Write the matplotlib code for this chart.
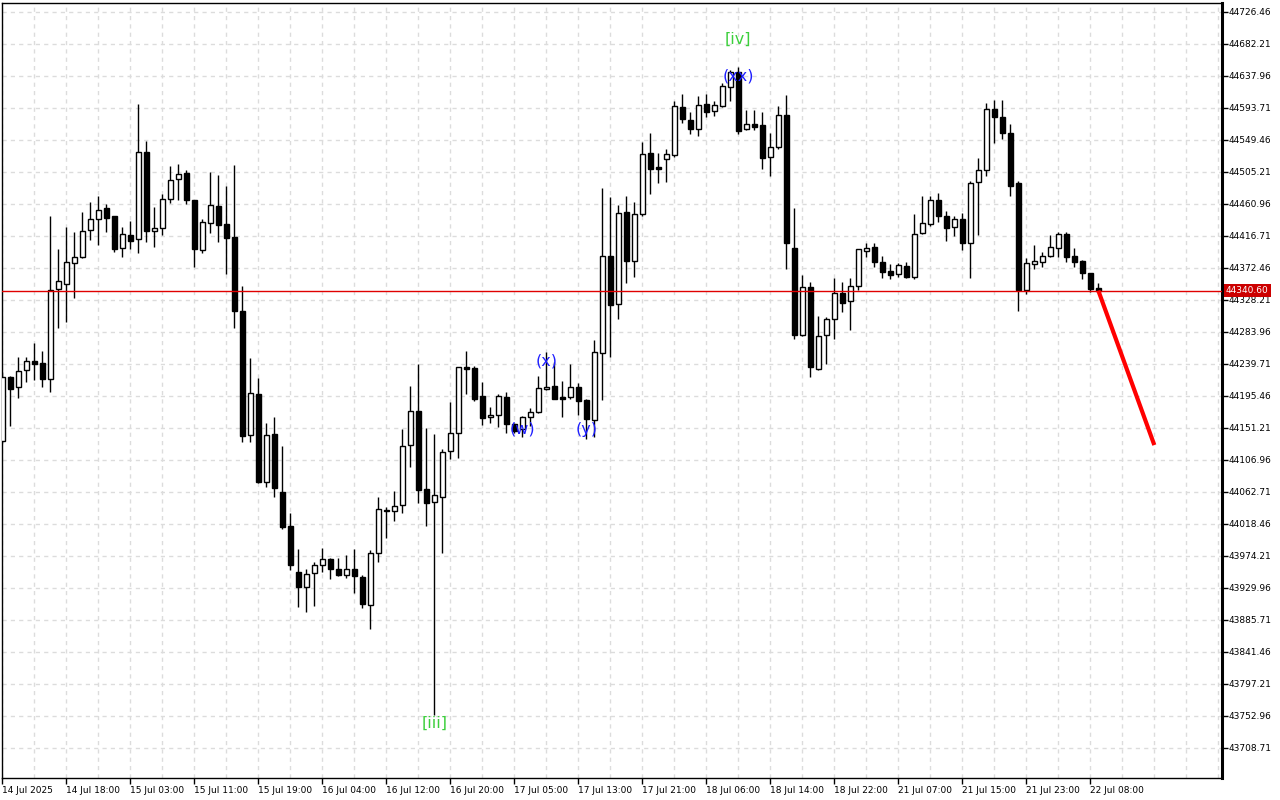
import matplotlib
matplotlib.use("Agg")
import matplotlib.pyplot as plt
import numpy as np

# hourly OHLC, 14 Jul 10:00 .. 22 Jul 09:00
opens = [44132.6, 44221.1, 44206.8, 44230.3, 44242.8, 44240.4, 44218.7, 44342.4, 44350.1, 44378.3,
         44387.4, 44423.9, 44439.2, 44454.4, 44443.4, 44399.1, 44417.0, 44411.5, 44531.8, 44422.6,
         44426.7, 44466.8, 44494.5, 44503.2, 44465.8, 44397.4, 44433.6, 44457.1, 44432.2, 44414.7,
         44312.3, 44140.5, 44197.2, 44075.5, 44141.9, 44061.6, 44014.6, 43951.0, 43930.3, 43949.6,
         43960.7, 43969.0, 43955.2, 43946.9, 43955.2, 43944.5, 43905.4, 43977.3, 44037.2, 44035.4,
         44043.7, 44126.6, 44173.7, 44065.8, 44047.8, 44055.6, 44118.1, 44143.0, 44234.5, 44233.3,
         44194.4, 44165.4, 44168.1, 44193.0, 44155.7, 44148.8, 44165.4, 44172.3, 44204.9, 44208.2,
         44193.0, 44193.0, 44206.8, 44188.9, 44162.3, 44253.9, 44388.0, 44322.4, 44448.8, 44381.9,
         44446.9, 44530.4, 44511.1, 44522.1, 44528.5, 44594.0, 44576.0, 44564.4, 44598.6, 44588.5,
         44595.4, 44621.7, 44642.4, 44563.6, 44570.5, 44569.1, 44525.7, 44539.5, 44583.1, 44399.1,
         44279.6, 44345.1, 44232.8, 44278.7, 44300.9, 44336.8, 44325.8, 44346.5, 44395.7, 44400.4,
         44379.7, 44367.2, 44363.1, 44374.2, 44359.8, 44419.8, 44432.2, 44465.4, 44443.3, 44428.1,
         44439.2, 44406.0, 44490.3, 44506.9, 44591.3, 44580.2, 44558.1, 44488.9, 44341.4, 44377.3,
         44379.7, 44388.0, 44399.1, 44418.8, 44388.4, 44381.5, 44364.9, 44343.7]
highs = [44228.0, 44222.5, 44248.7, 44248.7, 44268.1, 44257.0, 44443.7, 44398.1, 44428.5, 44421.6,
         44449.2, 44463.1, 44471.4, 44460.3, 44443.9, 44428.5, 44436.8, 44598.6, 44547.4, 44456.2,
         44473.7, 44512.4, 44515.6, 44507.3, 44466.5, 44439.6, 44505.0, 44500.4, 44485.2, 44513.8,
         44346.9, 44246.9, 44219.3, 44157.1, 44165.8, 44125.7, 44032.6, 43983.2, 43955.6, 43965.7,
         43985.0, 43971.2, 43971.2, 43974.9, 43983.2, 43947.3, 43981.9, 44054.7, 44040.9, 44063.4,
         44149.2, 44208.6, 44239.1, 44150.6, 44142.3, 44121.5, 44186.5, 44235.3, 44257.0, 44235.9,
         44214.2, 44179.6, 44197.6, 44200.3, 44157.1, 44167.2, 44178.2, 44222.5, 44255.7, 44242.0,
         44215.1, 44238.6, 44213.2, 44190.2, 44272.2, 44482.8, 44470.0, 44458.9, 44471.4, 44463.1,
         44545.6, 44558.1, 44530.4, 44535.9, 44602.3, 44612.4, 44587.9, 44609.7, 44612.4, 44602.3,
         44627.2, 44645.2, 44650.2, 44590.3, 44590.3, 44587.1, 44558.1, 44595.4, 44611.0, 44454.8,
         44361.7, 44352.4, 44305.4, 44303.6, 44357.6, 44352.0, 44357.6, 44398.8, 44406.0, 44406.0,
         44388.4, 44376.9, 44378.3, 44379.7, 44446.1, 44471.0, 44471.0, 44475.1, 44450.2, 44444.1,
         44447.4, 44491.7, 44523.5, 44599.6, 44604.1, 44603.7, 44570.5, 44491.7, 44385.2, 44403.6,
         44393.5, 44417.0, 44421.2, 44421.2, 44399.1, 44382.9, 44365.6, 44351.5]
lows = [44129.8, 44153.3, 44192.5, 44214.6, 44216.9, 44207.7, 44200.8, 44289.3, 44297.6, 44330.7,
        44386.0, 44410.5, 44403.6, 44422.0, 44394.4, 44387.4, 44398.1, 44393.0, 44408.2, 44401.3,
        44417.4, 44462.1, 44465.8, 44460.7, 44373.2, 44393.0, 44420.6, 44408.2, 44363.9, 44289.3,
        44131.6, 44131.6, 44075.2, 44068.6, 44055.6, 44010.5, 43954.6, 43903.5, 43896.5, 43904.8,
        43951.9, 43941.3, 43945.9, 43943.6, 43922.8, 43901.2, 43873.0, 43965.7, 43998.9, 44022.4,
        44033.4, 44097.1, 44046.4, 44015.5, 43753.7, 43978.1, 44107.7, 44109.5, 44198.3, 44188.3,
        44155.1, 44157.1, 44152.4, 44143.2, 44144.1, 44137.7, 44153.3, 44172.0, 44203.8, 44190.3,
        44165.4, 44191.1, 44169.0, 44135.8, 44138.5, 44189.3, 44249.2, 44300.9, 44350.6, 44359.8,
        44444.1, 44474.6, 44489.8, 44491.1, 44525.7, 44572.7, 44557.5, 44554.8, 44581.0, 44582.4,
        44594.4, 44603.2, 44557.1, 44562.6, 44563.0, 44509.1, 44499.4, 44536.8, 44371.1, 44274.0,
        44278.5, 44220.7, 44230.3, 44239.5, 44274.0, 44311.4, 44286.5, 44341.0, 44387.4, 44373.6,
        44358.4, 44357.0, 44359.8, 44358.4, 44357.0, 44418.8, 44430.3, 44435.0, 44409.6, 44416.5,
        44397.1, 44358.4, 44417.9, 44499.4, 44544.2, 44550.6, 44471.8, 44312.8, 44335.4, 44370.0,
        44373.6, 44386.6, 44387.4, 44380.1, 44373.6, 44356.2, 44338.2, 44339.8]
closes = [44221.1, 44204.9, 44229.0, 44242.8, 44239.5, 44218.7, 44341.0, 44353.4, 44379.7, 44386.6,
          44422.6, 44439.2, 44451.6, 44440.3, 44398.5, 44418.4, 44409.8, 44531.8, 44423.4, 44426.7,
          44466.8, 44493.1, 44501.4, 44466.3, 44398.5, 44435.0, 44458.5, 44431.7, 44414.0, 44311.7,
          44139.9, 44198.5, 44076.3, 44140.5, 44068.0, 44014.1, 43961.5, 43930.3, 43948.3, 43960.7,
          43969.0, 43955.2, 43946.9, 43955.2, 43945.5, 43906.8, 43977.3, 44038.1, 44035.4, 44042.3,
          44125.3, 44173.7, 44065.2, 44047.3, 44057.5, 44117.0, 44143.2, 44234.5, 44232.6, 44190.9,
          44164.0, 44168.1, 44194.4, 44155.7, 44146.8, 44165.4, 44172.3, 44205.5, 44207.7, 44191.1,
          44191.1, 44206.8, 44187.5, 44163.4, 44255.2, 44388.0, 44321.1, 44447.4, 44381.9, 44446.1,
          44529.0, 44509.1, 44509.1, 44529.0, 44595.4, 44578.3, 44564.4, 44596.8, 44587.9, 44596.8,
          44623.1, 44642.4, 44561.7, 44570.5, 44567.2, 44524.3, 44538.7, 44583.0, 44406.8, 44279.6,
          44345.1, 44234.5, 44277.4, 44300.9, 44336.8, 44323.8, 44346.5, 44397.7, 44399.9, 44380.5,
          44366.7, 44362.5, 44375.5, 44359.8, 44418.4, 44433.6, 44465.4, 44443.3, 44426.7, 44439.2,
          44406.8, 44488.9, 44506.9, 44591.3, 44580.2, 44558.1, 44485.6, 44341.4, 44378.3, 44381.1,
          44388.4, 44400.4, 44418.4, 44387.4, 44380.5, 44365.3, 44343.2, 44340.6]

date_labels = ["14 Jul 2025", "14 Jul 18:00", "15 Jul 03:00", "15 Jul 11:00", "15 Jul 19:00",
               "16 Jul 04:00", "16 Jul 12:00", "16 Jul 20:00", "17 Jul 05:00", "17 Jul 13:00",
               "17 Jul 21:00", "18 Jul 06:00", "18 Jul 14:00", "18 Jul 22:00", "21 Jul 07:00",
               "21 Jul 15:00", "21 Jul 23:00", "22 Jul 08:00"]
price_ticks = [43708.71 + 44.25 * k for k in range(24)]

current_price = 44340.60
forecast_bars = [137, 144]
forecast_prices = [44340.60, 44127.0]

# wave labels: (text, bar, 'high'/'low', pixel offset, colour)
wave_labels = [
    ("[iii]", 54, "low", -8, "#3ccf3c"),
    ("[iv]", 92, "high", 27, "#3ccf3c"),
    ("(w)", 65, "low", 8, "#1f1fff"),
    ("(x)", 68, "high", -9, "#1f1fff"),
    ("(y)", 73, "low", 9, "#1f1fff"),
    ("(xx)", 92, "high", -9, "#1f1fff"),
]

o = np.array(opens)
h = np.array(highs)
l = np.array(lows)
c = np.array(closes)
idx = np.arange(len(o))

fig = plt.figure(figsize=(12.8, 8), dpi=100, facecolor="white")
ax = fig.add_axes([2 / 1280, 22 / 800, 1220 / 1280, 775 / 800])
ax.set_facecolor("white")

# grid
for p in price_ticks:
    ax.axhline(p, color="#dcdcdc", lw=1, ls=(0, (3, 3)), zorder=0)
for g in range(0, 153, 4):
    ax.axvline(g, color="#dcdcdc", lw=1, ls=(0, (3, 3)), zorder=0)

# candles
ax.vlines(idx, l, h, color="black", lw=1, zorder=2)
bull = c >= o
body_bottom = np.minimum(o, c)
body_height = np.maximum(np.abs(c - o), 0.6)
ax.bar(idx[bull], body_height[bull], bottom=body_bottom[bull], width=0.62,
       color="white", edgecolor="black", linewidth=1, zorder=3)
ax.bar(idx[~bull], body_height[~bull], bottom=body_bottom[~bull], width=0.62,
       color="black", edgecolor="black", linewidth=1, zorder=3)

# current price line and forecast
ax.axhline(current_price, color="#e00000", lw=1, zorder=4)
ax.plot(forecast_bars, forecast_prices, color="#ff0000", lw=3, zorder=5,
        solid_capstyle="butt")

for text, bar, side, off, col in wave_labels:
    yv = h[bar] if side == "high" else l[bar]
    ax.annotate(text, xy=(bar, yv), xytext=(0, off), textcoords="offset pixels",
                ha="center", va="center", fontsize=11.5, color=col, zorder=6)

ax.set_xlim(-0.04, 152.46)
ax.set_ylim(43666.6, 44738.3)

ax.yaxis.tick_right()
ax.set_yticks(price_ticks)
ax.set_yticklabels([f"{p:.2f}" for p in price_ticks])
ax.set_xticks(np.arange(0, 8 * len(date_labels), 8))
ax.set_xticklabels(date_labels, ha="left")
ax.tick_params(axis="both", direction="out", length=4, width=1, labelsize=6.5,
               colors="black", pad=1)
ax.tick_params(axis="x", pad=2)

for s in ["top", "left", "bottom"]:
    ax.spines[s].set_linewidth(1)
    ax.spines[s].set_color("black")
ax.spines["right"].set_linewidth(2.2)

ax.annotate(f"{current_price:.2f}", xy=(1, current_price), xycoords=ax.get_yaxis_transform(),
            xytext=(4, 0), textcoords="offset pixels", ha="left", va="center",
            fontsize=6.5, color="white", annotation_clip=False, zorder=10,
            bbox=dict(boxstyle="square,pad=0.2", fc="#cc0000", ec="none"))

fig.savefig("out.png", dpi=100, facecolor="white")
